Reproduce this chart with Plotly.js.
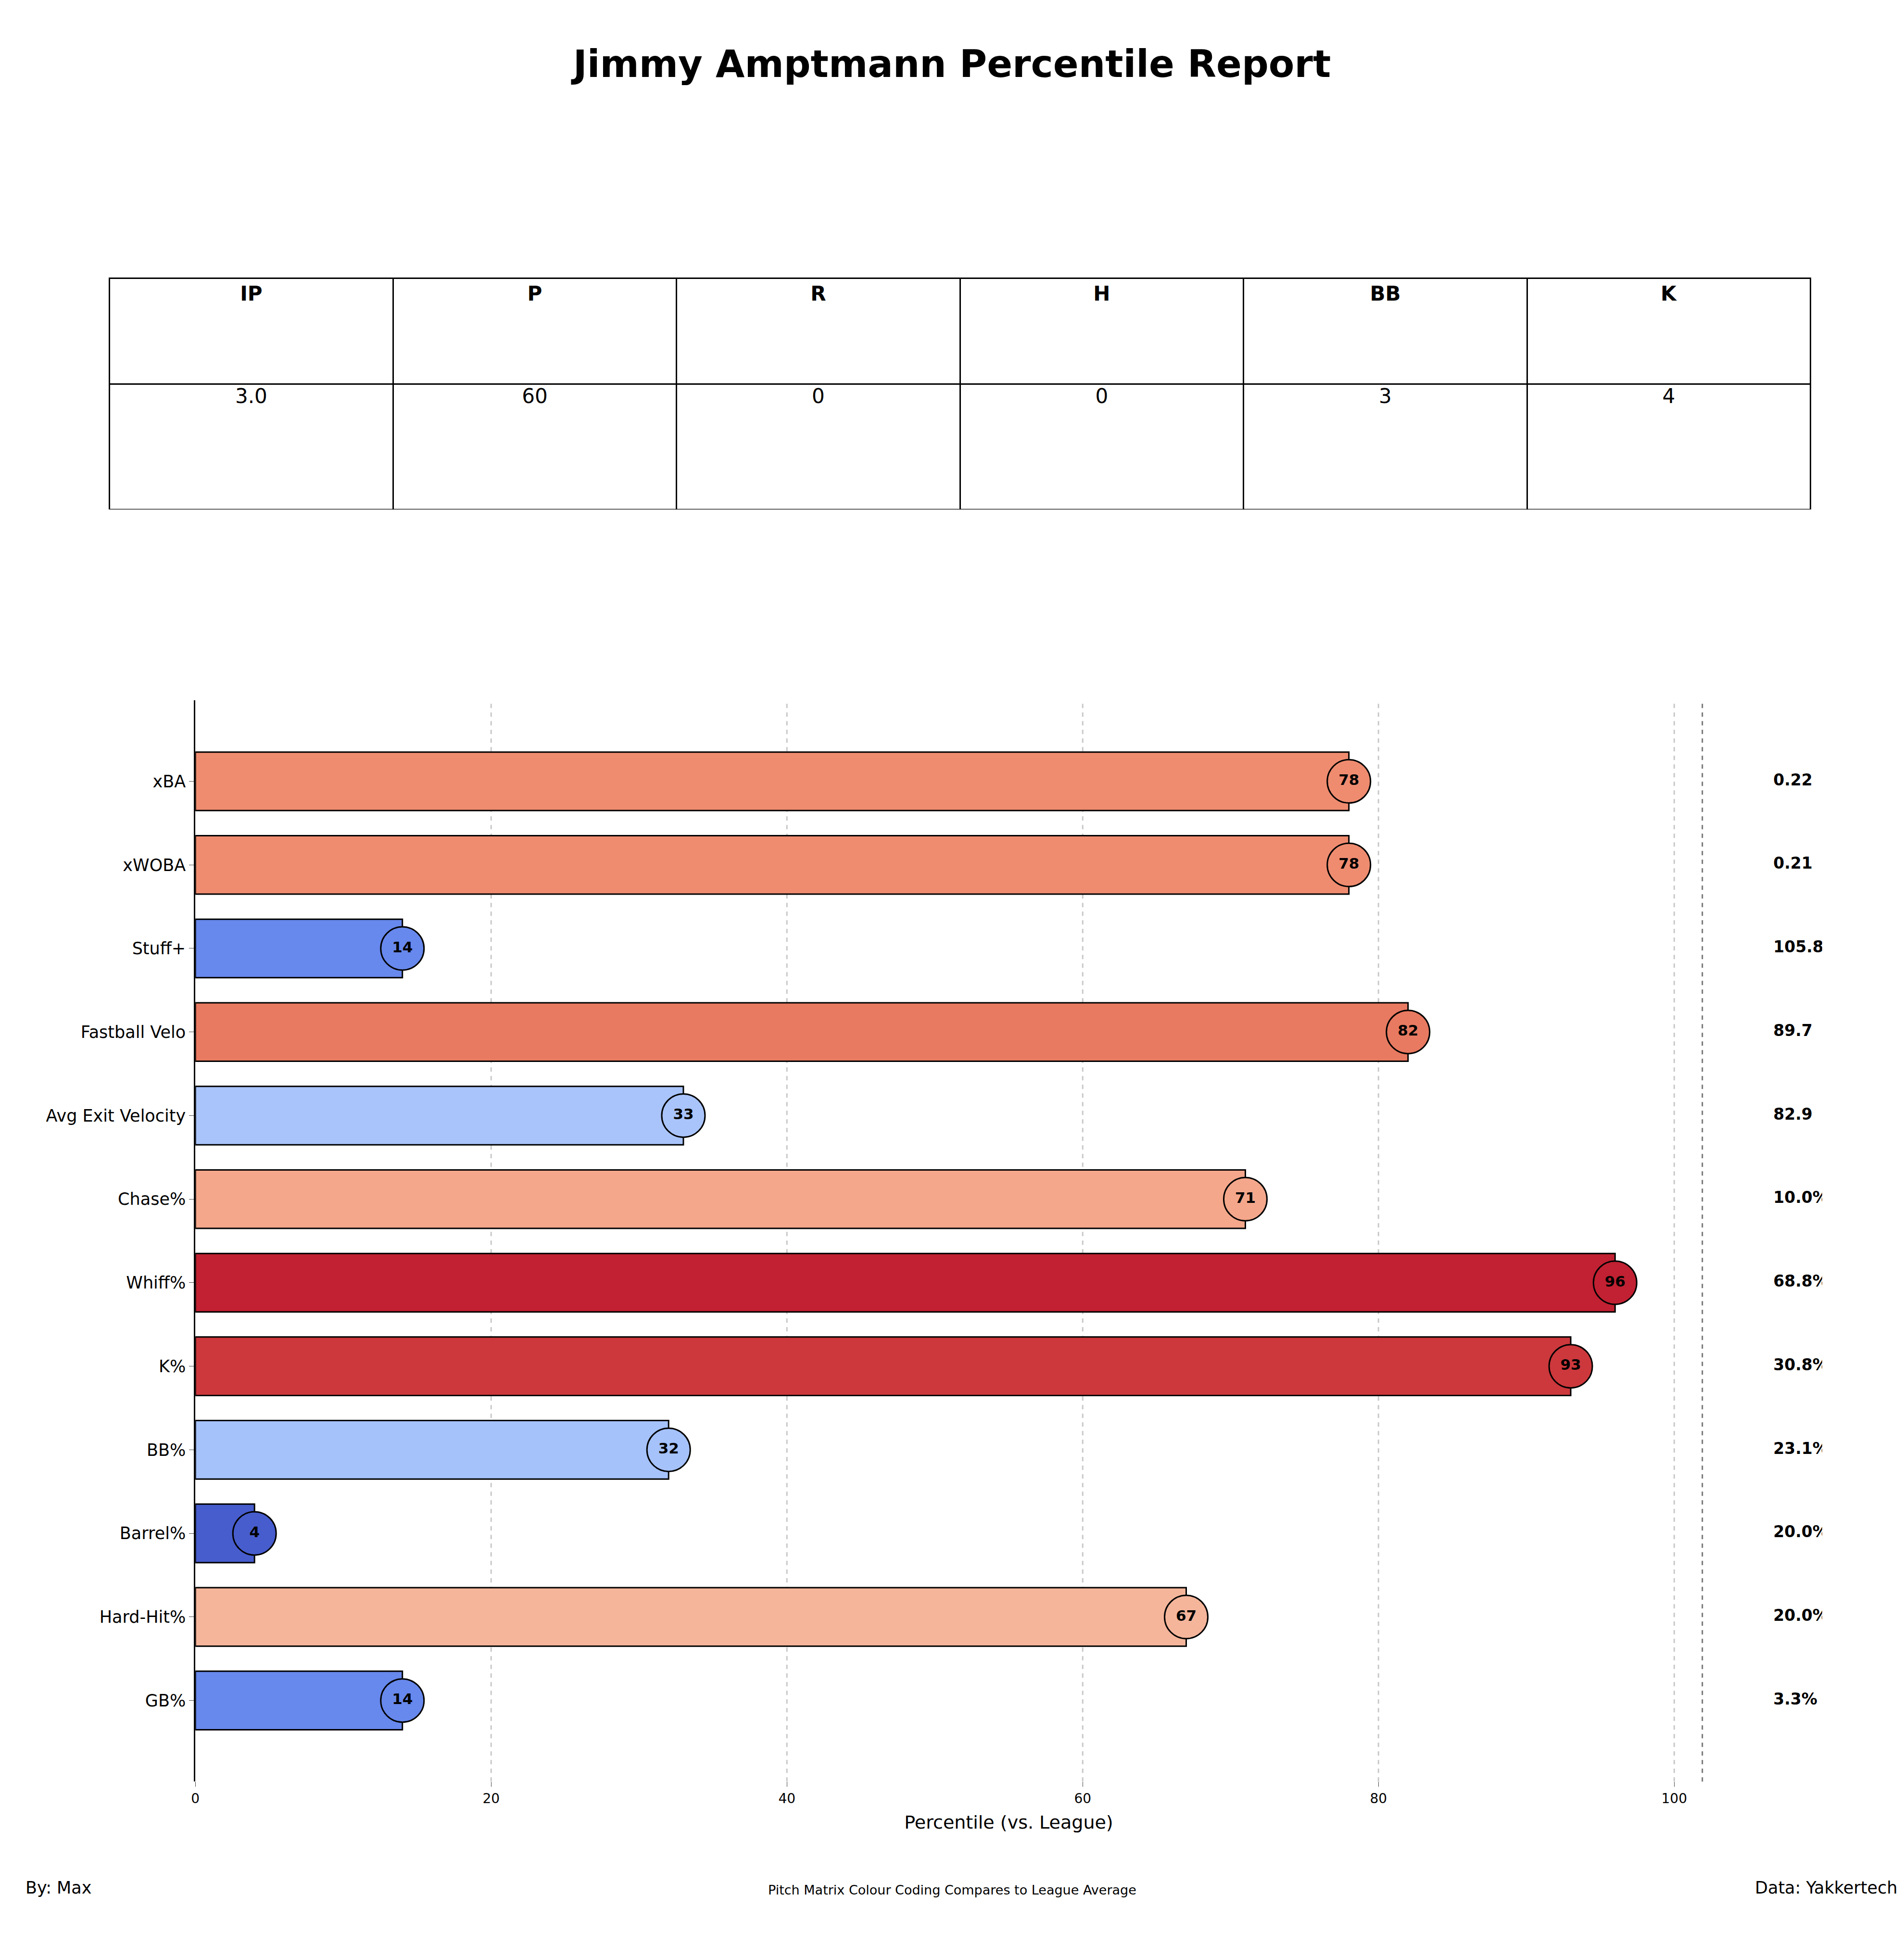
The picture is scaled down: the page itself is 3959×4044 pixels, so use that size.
<!DOCTYPE html>
<html>
<head>
<meta charset="utf-8">
<script src="https://cdn.plot.ly/plotly-3.0.1.min.js"></script>
<style>body{margin:0;background:#fff}</style>
</head>
<body>
<div id="chart" style="width:3959px;height:4044px"></div>
<script>
var statHeaders = ['IP', 'P', 'R', 'H', 'BB', 'K'];
var statValues = ['3.0', '60', '0', '0', '3', '4'];

var metrics = ['xBA', 'xWOBA', 'Stuff+', 'Fastball Velo', 'Avg Exit Velocity', 'Chase%',
               'Whiff%', 'K%', 'BB%', 'Barrel%', 'Hard-Hit%', 'GB%'];
var percentiles = [78, 78, 14, 82, 33, 71, 96, 93, 32, 4, 67, 14];
var rawValues = ['0.22', '0.21', '105.87', '89.7', '82.9', '10.0%',
                 '68.8%', '30.8%', '23.1%', '20.0%', '20.0%', '3.3%'];

var coolwarm = [
    [0, 'rgb(59,76,192)'], [0.125, 'rgb(98,130,234)'], [0.25, 'rgb(141,176,254)'],
    [0.375, 'rgb(184,208,249)'], [0.5, 'rgb(221,221,221)'], [0.625, 'rgb(245,196,173)'],
    [0.75, 'rgb(244,154,123)'], [0.875, 'rgb(222,96,77)'], [1, 'rgb(180,4,38)']
];

var table = {
    type: 'table',
    domain: {x: [0.0575, 0.951], y: [0.738, 0.857]},
    columnwidth: [1, 1, 1, 1, 1, 1],
    header: {
        values: statHeaders.map(function (h) { return '<b>' + h + '</b>'; }),
        align: 'center', height: 220,
        line: {color: 'black', width: 3}, fill: {color: 'white'},
        font: {family: 'DejaVu Sans', size: 42, color: 'black'}
    },
    cells: {
        values: statValues.map(function (v) { return [v]; }),
        align: 'center', height: 261,
        line: {color: 'black', width: 3}, fill: {color: 'white'},
        font: {family: 'DejaVu Sans', size: 42, color: 'black'}
    }
};

var bars = {
    type: 'bar', orientation: 'h',
    x: percentiles, y: metrics, width: 0.7,
    marker: {color: percentiles, colorscale: coolwarm, cmin: 0, cmax: 100,
             line: {color: 'black', width: 3}},
    hoverinfo: 'skip'
};

var dots = {
    type: 'scatter', mode: 'markers+text',
    x: percentiles, y: metrics,
    text: percentiles.map(String),
    textposition: 'middle center',
    textfont: {family: 'DejaVu Sans', size: 31, color: 'black', weight: 'bold'},
    marker: {size: 90, color: percentiles, colorscale: coolwarm, cmin: 0, cmax: 100,
             line: {color: 'black', width: 3}}
};

var raws = {
    type: 'scatter', mode: 'text',
    x: metrics.map(function () { return 106.7; }), y: metrics,
    text: rawValues, textposition: 'middle right',
    textfont: {family: 'DejaVu Sans', size: 33, color: 'black', weight: 'bold'}
};

var layout = {
    width: 3959, height: 4044,
    paper_bgcolor: 'white', plot_bgcolor: 'white',
    showlegend: false,
    margin: {l: 0, r: 0, t: 0, b: 0},
    title: {text: '<b>Jimmy Amptmann Percentile Report</b>', x: 0.5, y: 0.974,
            font: {family: 'DejaVu Sans', size: 78, color: 'black'}},
    xaxis: {
        domain: [0.1026, 0.957], range: [0, 110],
        tickvals: [0, 20, 40, 60, 80, 100], ticks: 'outside', ticklen: 10,
        tickfont: {family: 'DejaVu Sans', size: 28, color: 'black'},
        showgrid: false, zeroline: false, showline: false,
        title: {text: 'Percentile (vs. League)', standoff: 20,
                font: {family: 'DejaVu Sans', size: 38, color: 'black'}}
    },
    yaxis: {
        domain: [0.084, 0.640],
        autorange: 'reversed', range: [-0.6, 11.6],
        ticks: 'outside', ticklen: 10,
        tickfont: {family: 'DejaVu Sans', size: 35, color: 'black'},
        showline: true, linecolor: 'black', linewidth: 3, zeroline: false, showgrid: false
    },
    shapes: [20, 40, 60, 80, 100].map(function (v) {
        return {type: 'line', xref: 'x', yref: 'paper', x0: v, x1: v, y0: 0.084, y1: 0.640,
                layer: 'below', line: {color: '#c8c8c8', width: 3, dash: 'dash'}};
    }).concat([{type: 'line', xref: 'x', yref: 'paper', x0: 101.9, x1: 101.9, y0: 0.084, y1: 0.640,
                line: {color: '#777', width: 3, dash: 'dash'}}]),
    annotations: [
        {text: 'By: Max', xref: 'paper', yref: 'paper', x: 0.013, y: 0.024, xanchor: 'left',
         showarrow: false, font: {family: 'DejaVu Sans', size: 35, color: 'black'}},
        {text: 'Pitch Matrix Colour Coding Compares to League Average', xref: 'paper', yref: 'paper',
         x: 0.5, y: 0.024, showarrow: false, font: {family: 'DejaVu Sans', size: 27, color: 'black'}},
        {text: 'Data: Yakkertech', xref: 'paper', yref: 'paper', x: 0.997, y: 0.024, xanchor: 'right',
         showarrow: false, font: {family: 'DejaVu Sans', size: 35, color: 'black'}}
    ]
};

Plotly.newPlot('chart', [table, bars, dots, raws], layout, {staticPlot: true});
</script>
</body>
</html>
